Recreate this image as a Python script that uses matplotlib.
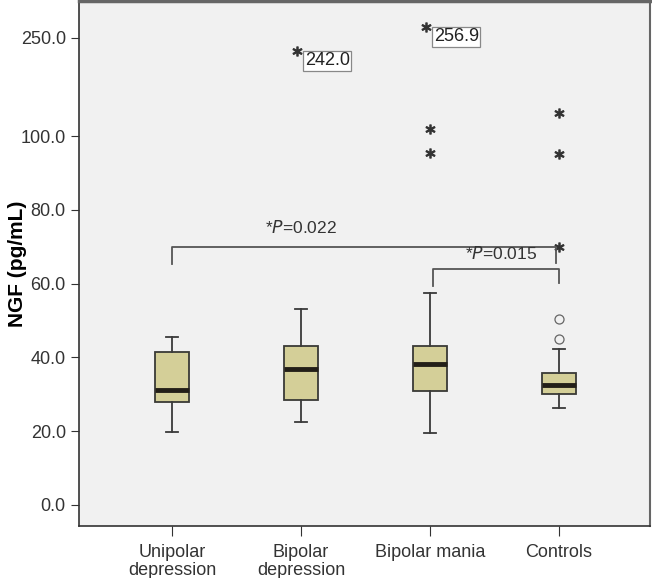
import numpy as np
import matplotlib
matplotlib.use("Agg")
from matplotlib import pyplot as plt

plt.rcParams['font.family'] = ['Liberation Sans', 'DejaVu Sans']

# data
groups   = ["Unipolar\ndepression", "Bipolar\ndepression", "Bipolar mania", "Controls"]
whislo   = [19.8, 22.5, 19.5, 26.3]
q1       = [27.9, 28.5, 30.9, 30.1]
med      = [31.2, 36.9, 38.2, 32.5]
q3       = [41.5, 43.1, 43.1, 35.8]
whishi   = [45.5, 53.1, 57.4, 42.2]
circles  = [[], [], [], [50.4, 45.0]]
extremes = [[], [242.0], [256.9, 101.9, 95.4], [106.2, 95.1, 69.9]]
labelled = [242.0, 256.9]
yticks   = [0, 20, 40, 60, 80, 100, 250]
p_texts  = ["*$P$=0.022", "*$P$=0.015"]

# broken y axis: linear up to 110, compressed above
brk_v = np.array([-50.0, 110.0, 230.0, 400.0])
brk_p = np.array([-50.0, 110.0, 117.9, 117.9 + 170 * 0.436])
def fwd(v):
    return np.interp(v, brk_v, brk_p)
def inv(p):
    return np.interp(p, brk_p, brk_v)

fig = plt.figure(figsize=(6.52, 5.78), dpi=100)
ax = fig.add_axes([79/652, 1 - 526/578, (650-79)/652, (526-1)/578])
ax.set_facecolor("#f1f1f1")
ax.set_yscale("function", functions=(fwd, inv))

stats = []
for i in range(4):
    stats.append(dict(whislo=whislo[i], q1=q1[i], med=med[i], q3=q3[i],
                      whishi=whishi[i], fliers=[]))
ax.bxp(stats, positions=[1, 2, 3, 4], widths=0.26, patch_artist=True,
       boxprops=dict(facecolor="#d4cf98", edgecolor="#3a3a36", linewidth=1.3),
       medianprops=dict(color="#231f18", linewidth=3.5),
       whiskerprops=dict(color="#3a3a3a", linewidth=1.3),
       capprops=dict(color="#3a3a3a", linewidth=1.3), capwidths=0.1)

for i in range(4):
    if circles[i]:
        ax.plot([i + 1] * len(circles[i]), circles[i], "o", ms=6.5,
                mfc="none", mec="#666666", mew=0.9)
    for v in extremes[i]:
        dx = -0.03 if v in labelled else 0
        ax.plot(i + 1 + dx, v, marker="$*$", ms=6.5, color="#333333", ls="none")
        if v in labelled:
            ax.text(i + 1 + 0.03, v - 1.0, "%.1f" % v, ha="left", va="top", fontsize=13,
                    color="#222222",
                    bbox=dict(boxstyle="square,pad=0.08", fc="white", ec="#888888", lw=0.9))

# significance brackets
bc = "#555555"
ax.plot([1, 1, 3.98, 3.98], [65.3, 69.9, 69.9, 65.5], color=bc, lw=1.3)
ax.text(2.0, 72.8, p_texts[0], ha="center", va="bottom", fontsize=12.5, color="#333333")
ax.plot([3.02, 3.02, 4, 4], [59.3, 64.0, 64.0, 60.2], color=bc, lw=1.3)
ax.text(3.55, 65.8, p_texts[1], ha="center", va="bottom", fontsize=12.5, color="#333333")

ax.set_xlim(0.279, 4.705)
ax.set_ylim(-5.7, 273)
ax.set_yticks(yticks)
ax.set_yticklabels(["%.1f" % t for t in yticks])
ax.yaxis.set_minor_locator(matplotlib.ticker.NullLocator())
ax.set_xticks([1, 2, 3, 4])
ax.set_xticklabels(groups, fontsize=13, color="#333333", linespacing=1.05)
ax.tick_params(axis="y", labelsize=13, labelcolor="#333333", length=6, color="#333333")
ax.tick_params(axis="x", length=7, color="#333333", pad=6)
ax.set_ylabel("NGF (pg/mL)", fontsize=15, fontweight="bold")
ax.yaxis.set_label_coords(-52/571, 0.5)

for s in ["left", "bottom"]:
    ax.spines[s].set_color("#333333")
    ax.spines[s].set_linewidth(1.2)
ax.spines["top"].set_color("#666666")
ax.spines["top"].set_linewidth(2.5)
ax.spines["right"].set_color("#666666")
ax.spines["right"].set_linewidth(1.5)

fig.savefig("out.png", dpi=100)
